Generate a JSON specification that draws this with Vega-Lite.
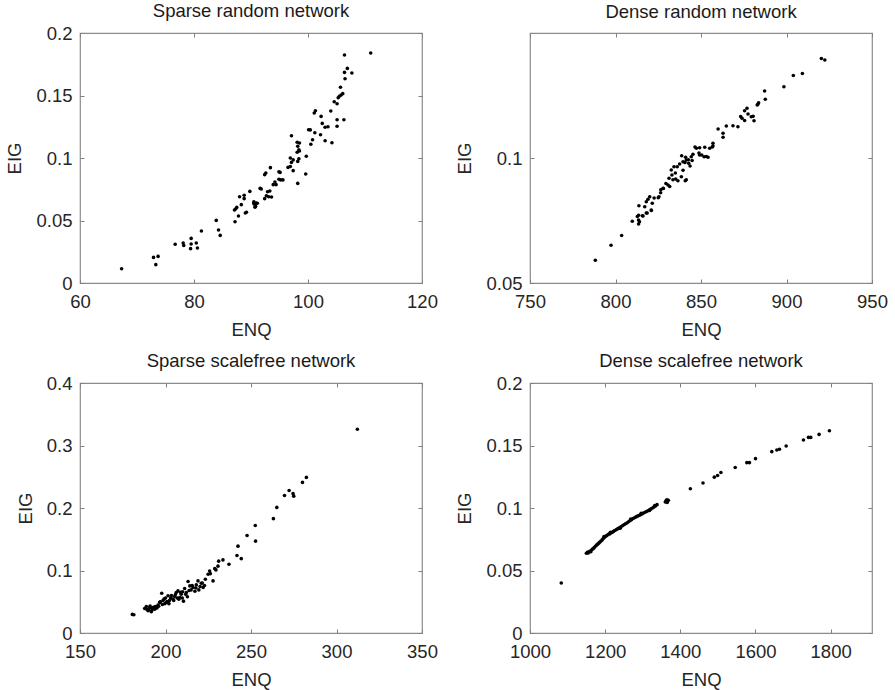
{
  "$schema": "https://vega.github.io/schema/vega-lite/v6.json",
  "padding": {"left": 5, "top": 0, "right": 5, "bottom": 5},
  "background": "white",
  "config": {
    "view": {"stroke": "#8c8c8c", "strokeWidth": 1.2},
    "font": "Liberation Sans",
    "title": {"font": "Liberation Sans", "fontSize": 18.5, "fontWeight": "normal", "color": "#1a1a1a", "offset": 11, "anchor": "middle"},
    "axis": {"labelFont": "Liberation Sans", "labelFontSize": 18.5, "labelColor": "#262626", "titleFont": "Liberation Sans", "titleFontSize": 18.5, "titleFontWeight": "normal", "titleColor": "#262626", "domain": false, "grid": false, "tickColor": "#808080", "tickSize": -4, "labelFlush": false, "labelOverlap": false, "labelBound": false, "format": "~r"},
    "axisX": {"labelPadding": 13, "titlePadding": 10},
    "axisY": {"labelPadding": 12, "titlePadding": 11}
  },
  "datasets": {
    "sparse_random": [
      {"ENQ":67.3,"EIG":0.0114},{"ENQ":72.9,"EIG":0.0205},{"ENQ":73.7,"EIG":0.0213},{"ENQ":73.3,"EIG":0.0147},{"ENQ":76.7,"EIG":0.031},{"ENQ":78.1,"EIG":0.032},{"ENQ":78.2,"EIG":0.030},{"ENQ":79.5,"EIG":0.0357},{"ENQ":79.5,"EIG":0.0312},{"ENQ":79.4,"EIG":0.0275},{"ENQ":80.4,"EIG":0.032},{"ENQ":80.6,"EIG":0.028},{"ENQ":81.3,"EIG":0.0416},{"ENQ":83.9,"EIG":0.0501},{"ENQ":84.3,"EIG":0.0424},{"ENQ":84.6,"EIG":0.0381},{"ENQ":87.2,"EIG":0.049},{"ENQ":87.1,"EIG":0.0584},{"ENQ":87.5,"EIG":0.0605},{"ENQ":87.3,"EIG":0.0592},{"ENQ":87.8,"EIG":0.0536},{"ENQ":88.0,"EIG":0.069},{"ENQ":88.3,"EIG":0.0627},{"ENQ":88.8,"EIG":0.0702},{"ENQ":88.8,"EIG":0.0675},{"ENQ":89.0,"EIG":0.056},{"ENQ":89.2,"EIG":0.0566},{"ENQ":89.8,"EIG":0.0733},{"ENQ":90.5,"EIG":0.0638},{"ENQ":90.7,"EIG":0.0606},{"ENQ":90.5,"EIG":0.065},{"ENQ":90.6,"EIG":0.063},{"ENQ":90.9,"EIG":0.064},{"ENQ":91.1,"EIG":0.0638},{"ENQ":90.8,"EIG":0.0615},{"ENQ":91.6,"EIG":0.0757},{"ENQ":91.8,"EIG":0.0752},{"ENQ":92.4,"EIG":0.0675},{"ENQ":92.7,"EIG":0.0698},{"ENQ":92.9,"EIG":0.073},{"ENQ":93.3,"EIG":0.0736},{"ENQ":93.1,"EIG":0.069},{"ENQ":93.6,"EIG":0.0688},{"ENQ":92.4,"EIG":0.0867},{"ENQ":92.6,"EIG":0.088},{"ENQ":93.4,"EIG":0.0923},{"ENQ":93.9,"EIG":0.0787},{"ENQ":94.2,"EIG":0.0808},{"ENQ":94.4,"EIG":0.0787},{"ENQ":94.9,"EIG":0.083},{"ENQ":95.2,"EIG":0.0825},{"ENQ":94.9,"EIG":0.089},{"ENQ":95.1,"EIG":0.0885},{"ENQ":95.6,"EIG":0.0825},{"ENQ":96.5,"EIG":0.0925},{"ENQ":96.9,"EIG":0.0932},{"ENQ":96.9,"EIG":0.1},{"ENQ":97.1,"EIG":0.0965},{"ENQ":97.1,"EIG":0.1178},{"ENQ":97.4,"EIG":0.0899},{"ENQ":97.4,"EIG":0.0985},{"ENQ":98.1,"EIG":0.1126},{"ENQ":98.2,"EIG":0.0973},{"ENQ":98.2,"EIG":0.1094},{"ENQ":98.2,"EIG":0.0797},{"ENQ":98.4,"EIG":0.0994},{"ENQ":98.4,"EIG":0.1065},{"ENQ":98.5,"EIG":0.112},{"ENQ":98.5,"EIG":0.1056},{"ENQ":98.1,"EIG":0.1046},{"ENQ":99.6,"EIG":0.0872},{"ENQ":99.7,"EIG":0.1014},{"ENQ":100.1,"EIG":0.1226},{"ENQ":100.4,"EIG":0.1225},{"ENQ":100.5,"EIG":0.111},{"ENQ":100.8,"EIG":0.1146},{"ENQ":101.1,"EIG":0.136},{"ENQ":101.3,"EIG":0.1378},{"ENQ":101.2,"EIG":0.1202},{"ENQ":102.2,"EIG":0.1186},{"ENQ":102.3,"EIG":0.1333},{"ENQ":102.5,"EIG":0.1277},{"ENQ":103.0,"EIG":0.1246},{"ENQ":103.5,"EIG":0.125},{"ENQ":103.0,"EIG":0.1138},{"ENQ":104.0,"EIG":0.1376},{"ENQ":104.2,"EIG":0.1122},{"ENQ":104.6,"EIG":0.145},{"ENQ":105.1,"EIG":0.1434},{"ENQ":105.3,"EIG":0.1482},{"ENQ":105.5,"EIG":0.1494},{"ENQ":105.8,"EIG":0.1504},{"ENQ":106.1,"EIG":0.1515},{"ENQ":105.7,"EIG":0.1566},{"ENQ":105.1,"EIG":0.1306},{"ENQ":106.3,"EIG":0.1306},{"ENQ":105.1,"EIG":0.1254},{"ENQ":106.4,"EIG":0.1685},{"ENQ":106.5,"EIG":0.1634},{"ENQ":106.9,"EIG":0.1717},{"ENQ":107.7,"EIG":0.168},{"ENQ":106.4,"EIG":0.1824},{"ENQ":111.0,"EIG":0.184}
    ],
    "dense_random": [
      {"ENQ":788.2,"EIG":0.0591},{"ENQ":797.4,"EIG":0.0651},{"ENQ":803.6,"EIG":0.069},{"ENQ":809.8,"EIG":0.0747},{"ENQ":813.5,"EIG":0.0736},{"ENQ":813.5,"EIG":0.0752},{"ENQ":813.5,"EIG":0.0771},{"ENQ":816.1,"EIG":0.0768},{"ENQ":813.7,"EIG":0.0809},{"ENQ":817.1,"EIG":0.0805},{"ENQ":818.0,"EIG":0.0825},{"ENQ":819.0,"EIG":0.0835},{"ENQ":820.0,"EIG":0.0845},{"ENQ":820.9,"EIG":0.0792},{"ENQ":821.5,"EIG":0.0819},{"ENQ":818.5,"EIG":0.078},{"ENQ":825.4,"EIG":0.0845},{"ENQ":826.4,"EIG":0.0861},{"ENQ":827.8,"EIG":0.0879},{"ENQ":825.0,"EIG":0.0841},{"ENQ":830.7,"EIG":0.0892},{"ENQ":831.3,"EIG":0.0919},{"ENQ":833.0,"EIG":0.0932},{"ENQ":832.6,"EIG":0.0952},{"ENQ":834.2,"EIG":0.0965},{"ENQ":831.7,"EIG":0.0886},{"ENQ":835.2,"EIG":0.0916},{"ENQ":836.5,"EIG":0.0909},{"ENQ":838.5,"EIG":0.0925},{"ENQ":840.8,"EIG":0.0909},{"ENQ":836.1,"EIG":0.0965},{"ENQ":837.5,"EIG":0.0976},{"ENQ":839.5,"EIG":0.0985},{"ENQ":841.4,"EIG":0.0992},{"ENQ":842.8,"EIG":0.0979},{"ENQ":843.6,"EIG":0.0968},{"ENQ":838.7,"EIG":0.1009},{"ENQ":841.0,"EIG":0.1003},{"ENQ":844.3,"EIG":0.1005},{"ENQ":845.3,"EIG":0.1015},{"ENQ":847.3,"EIG":0.1039},{"ENQ":849.2,"EIG":0.1041},{"ENQ":852.2,"EIG":0.1043},{"ENQ":855.1,"EIG":0.1039},{"ENQ":857.0,"EIG":0.1048},{"ENQ":857.0,"EIG":0.1059},{"ENQ":849.2,"EIG":0.1012},{"ENQ":851.8,"EIG":0.1005},{"ENQ":854.1,"EIG":0.1003},{"ENQ":846.5,"EIG":0.1044},{"ENQ":860.0,"EIG":0.1116},{"ENQ":862.9,"EIG":0.1099},{"ENQ":862.9,"EIG":0.1083},{"ENQ":864.8,"EIG":0.1128},{"ENQ":868.7,"EIG":0.1129},{"ENQ":871.6,"EIG":0.1125},{"ENQ":874.0,"EIG":0.1159},{"ENQ":875.5,"EIG":0.1189},{"ENQ":876.9,"EIG":0.1199},{"ENQ":877.5,"EIG":0.1176},{"ENQ":879.4,"EIG":0.1165},{"ENQ":881.0,"EIG":0.1149},{"ENQ":882.9,"EIG":0.1212},{"ENQ":883.7,"EIG":0.1221},{"ENQ":887.2,"EIG":0.1268},{"ENQ":887.6,"EIG":0.1235},{"ENQ":898.5,"EIG":0.1285},{"ENQ":904.0,"EIG":0.133},{"ENQ":909.3,"EIG":0.1338},{"ENQ":920.4,"EIG":0.1398},{"ENQ":922.4,"EIG":0.1392},{"ENQ":841.4,"EIG":0.0913},{"ENQ":839.5,"EIG":0.0951},{"ENQ":833.6,"EIG":0.0913},{"ENQ":828.0,"EIG":0.0878},{"ENQ":826.5,"EIG":0.0873},{"ENQ":815.7,"EIG":0.0769},{"ENQ":812.8,"EIG":0.0766},{"ENQ":821.0,"EIG":0.079},{"ENQ":818.0,"EIG":0.078},{"ENQ":842.6,"EIG":0.0993},{"ENQ":840.6,"EIG":0.0982},{"ENQ":850.4,"EIG":0.1012},{"ENQ":853.1,"EIG":0.1006},{"ENQ":848.8,"EIG":0.102},{"ENQ":856.6,"EIG":0.1044},{"ENQ":873.2,"EIG":0.1166},{"ENQ":875.5,"EIG":0.115},{"ENQ":880.5,"EIG":0.1167},{"ENQ":883.2,"EIG":0.1215},{"ENQ":814.0,"EIG":0.0745},{"ENQ":822.6,"EIG":0.084},{"ENQ":829.5,"EIG":0.0898},{"ENQ":835.0,"EIG":0.094},{"ENQ":844.8,"EIG":0.099}
    ],
    "sparse_scalefree": [
      {"ENQ":180.6,"EIG":0.0298},{"ENQ":181.5,"EIG":0.0292},{"ENQ":187.8,"EIG":0.0393},{"ENQ":188.8,"EIG":0.0425},{"ENQ":190.8,"EIG":0.041},{"ENQ":189.8,"EIG":0.0356},{"ENQ":191.7,"EIG":0.034},{"ENQ":190.3,"EIG":0.037},{"ENQ":192.5,"EIG":0.0395},{"ENQ":193.7,"EIG":0.0382},{"ENQ":194.0,"EIG":0.0425},{"ENQ":195.6,"EIG":0.0446},{"ENQ":196.6,"EIG":0.049},{"ENQ":197.8,"EIG":0.0637},{"ENQ":198.2,"EIG":0.0455},{"ENQ":199.1,"EIG":0.0542},{"ENQ":199.6,"EIG":0.047},{"ENQ":200.5,"EIG":0.049},{"ENQ":201.5,"EIG":0.0595},{"ENQ":202.3,"EIG":0.052},{"ENQ":203.0,"EIG":0.056},{"ENQ":204.4,"EIG":0.0542},{"ENQ":205.4,"EIG":0.0584},{"ENQ":206.3,"EIG":0.0648},{"ENQ":207.3,"EIG":0.0674},{"ENQ":207.8,"EIG":0.054},{"ENQ":208.3,"EIG":0.0568},{"ENQ":209.2,"EIG":0.0621},{"ENQ":210.0,"EIG":0.066},{"ENQ":210.5,"EIG":0.051},{"ENQ":211.2,"EIG":0.0712},{"ENQ":212.2,"EIG":0.0648},{"ENQ":212.8,"EIG":0.058},{"ENQ":213.2,"EIG":0.0823},{"ENQ":214.2,"EIG":0.0754},{"ENQ":215.0,"EIG":0.069},{"ENQ":216.1,"EIG":0.0728},{"ENQ":217.2,"EIG":0.0668},{"ENQ":218.0,"EIG":0.077},{"ENQ":219.0,"EIG":0.0834},{"ENQ":220.2,"EIG":0.0745},{"ENQ":220.9,"EIG":0.0797},{"ENQ":222.0,"EIG":0.073},{"ENQ":223.3,"EIG":0.086},{"ENQ":224.9,"EIG":0.094},{"ENQ":225.8,"EIG":0.0993},{"ENQ":227.8,"EIG":0.0834},{"ENQ":228.8,"EIG":0.103},{"ENQ":230.7,"EIG":0.107},{"ENQ":231.1,"EIG":0.115},{"ENQ":233.6,"EIG":0.117},{"ENQ":237.1,"EIG":0.11},{"ENQ":241.8,"EIG":0.124},{"ENQ":242.4,"EIG":0.139},{"ENQ":244.3,"EIG":0.119},{"ENQ":247.7,"EIG":0.156},{"ENQ":252.5,"EIG":0.172},{"ENQ":252.7,"EIG":0.147},{"ENQ":263.1,"EIG":0.183},{"ENQ":265.1,"EIG":0.201},{"ENQ":269.6,"EIG":0.22},{"ENQ":272.3,"EIG":0.228},{"ENQ":274.6,"EIG":0.223},{"ENQ":275.0,"EIG":0.219},{"ENQ":280.1,"EIG":0.241},{"ENQ":282.4,"EIG":0.249},{"ENQ":312.2,"EIG":0.326},{"ENQ":189.0,"EIG":0.038},{"ENQ":191.0,"EIG":0.043},{"ENQ":192.0,"EIG":0.036},{"ENQ":193.0,"EIG":0.041},{"ENQ":195.0,"EIG":0.04},{"ENQ":196.0,"EIG":0.043},{"ENQ":197.0,"EIG":0.05},{"ENQ":198.5,"EIG":0.052},{"ENQ":200.0,"EIG":0.056},{"ENQ":201.0,"EIG":0.0505},{"ENQ":202.0,"EIG":0.047},{"ENQ":203.5,"EIG":0.06},{"ENQ":204.8,"EIG":0.052},{"ENQ":205.8,"EIG":0.0615},{"ENQ":206.8,"EIG":0.056},{"ENQ":208.8,"EIG":0.065},{"ENQ":209.8,"EIG":0.056},{"ENQ":211.8,"EIG":0.062},{"ENQ":213.8,"EIG":0.068},{"ENQ":215.6,"EIG":0.076},{"ENQ":217.8,"EIG":0.072},{"ENQ":219.5,"EIG":0.069},{"ENQ":221.5,"EIG":0.08},{"ENQ":222.8,"EIG":0.076},{"ENQ":226.2,"EIG":0.095},{"ENQ":229.5,"EIG":0.101}
    ],
    "dense_scalefree": [
      {"ENQ":1083.2,"EIG":0.04},{"ENQ":1150,"EIG":0.0638},{"ENQ":1153,"EIG":0.0646},{"ENQ":1155,"EIG":0.0641},{"ENQ":1157,"EIG":0.065},{"ENQ":1160,"EIG":0.0655},{"ENQ":1162,"EIG":0.0651},{"ENQ":1165,"EIG":0.0668},{"ENQ":1168,"EIG":0.0675},{"ENQ":1171,"EIG":0.0683},{"ENQ":1174,"EIG":0.0694},{"ENQ":1177,"EIG":0.0703},{"ENQ":1180,"EIG":0.0711},{"ENQ":1183,"EIG":0.0719},{"ENQ":1186,"EIG":0.0728},{"ENQ":1189,"EIG":0.0736},{"ENQ":1192,"EIG":0.0745},{"ENQ":1195,"EIG":0.0757},{"ENQ":1198,"EIG":0.0764},{"ENQ":1201,"EIG":0.0774},{"ENQ":1204,"EIG":0.0778},{"ENQ":1207,"EIG":0.0786},{"ENQ":1210,"EIG":0.0792},{"ENQ":1213,"EIG":0.0795},{"ENQ":1216,"EIG":0.0802},{"ENQ":1219,"EIG":0.0806},{"ENQ":1222,"EIG":0.0813},{"ENQ":1226,"EIG":0.082},{"ENQ":1230,"EIG":0.0828},{"ENQ":1234,"EIG":0.0835},{"ENQ":1238,"EIG":0.0841},{"ENQ":1242,"EIG":0.085},{"ENQ":1246,"EIG":0.0858},{"ENQ":1250,"EIG":0.0866},{"ENQ":1254,"EIG":0.0874},{"ENQ":1258,"EIG":0.088},{"ENQ":1262,"EIG":0.089},{"ENQ":1266,"EIG":0.0899},{"ENQ":1270,"EIG":0.0906},{"ENQ":1274,"EIG":0.0916},{"ENQ":1278,"EIG":0.0922},{"ENQ":1282,"EIG":0.0929},{"ENQ":1286,"EIG":0.0935},{"ENQ":1290,"EIG":0.094},{"ENQ":1294,"EIG":0.0947},{"ENQ":1298,"EIG":0.0952},{"ENQ":1302,"EIG":0.096},{"ENQ":1306,"EIG":0.0966},{"ENQ":1310,"EIG":0.0972},{"ENQ":1314,"EIG":0.0978},{"ENQ":1318,"EIG":0.0986},{"ENQ":1322,"EIG":0.0993},{"ENQ":1326,"EIG":0.1},{"ENQ":1330,"EIG":0.1009},{"ENQ":1334,"EIG":0.1017},{"ENQ":1338,"EIG":0.1027},{"ENQ":1197,"EIG":0.0772},{"ENQ":1214,"EIG":0.0806},{"ENQ":1240,"EIG":0.0838},{"ENQ":1268,"EIG":0.0912},{"ENQ":1296,"EIG":0.0958},{"ENQ":1318,"EIG":0.098},{"ENQ":1332,"EIG":0.102},{"ENQ":1360,"EIG":0.1048},{"ENQ":1362,"EIG":0.1058},{"ENQ":1364,"EIG":0.1065},{"ENQ":1366,"EIG":0.1052},{"ENQ":1368,"EIG":0.1062},{"ENQ":1365,"EIG":0.1045},{"ENQ":1426.7,"EIG":0.1154},{"ENQ":1460.3,"EIG":0.12},{"ENQ":1490.4,"EIG":0.1247},{"ENQ":1499.2,"EIG":0.126},{"ENQ":1508,"EIG":0.1284},{"ENQ":1546,"EIG":0.1324},{"ENQ":1577,"EIG":0.1363},{"ENQ":1584,"EIG":0.1363},{"ENQ":1600,"EIG":0.1395},{"ENQ":1643.4,"EIG":0.1451},{"ENQ":1656.8,"EIG":0.1464},{"ENQ":1663.9,"EIG":0.147},{"ENQ":1681.6,"EIG":0.1496},{"ENQ":1727.6,"EIG":0.1544},{"ENQ":1740.9,"EIG":0.1565},{"ENQ":1747,"EIG":0.1565},{"ENQ":1769.2,"EIG":0.1589},{"ENQ":1796.7,"EIG":0.1618}
    ]
  },
  "columns": 2,
  "spacing": {"row": 100, "column": 108},
  "bounds": "flush",
  "concat": [
    {
      "title": {"text": "Sparse random network", "offset": 4},
      "width": 342, "height": 250,
      "data": {"name": "sparse_random"},
      "layer": [
        {"mark": {"type": "circle", "size": 13, "color": "#000000", "opacity": 1},
         "encoding": {
           "x": {"field": "ENQ", "type": "quantitative", "scale": {"domain": [60, 120], "nice": false, "zero": false}, "axis": {"values": [60, 80, 100, 120], "title": "ENQ"}},
           "y": {"field": "EIG", "type": "quantitative", "scale": {"domain": [0, 0.2], "nice": false, "zero": false}, "axis": {"values": [0, 0.05, 0.1, 0.15, 0.2], "title": "EIG"}}
         }},
        {"mark": {"type": "point", "opacity": 0},
         "encoding": {
           "x": {"field": "ENQ", "type": "quantitative", "axis": {"orient": "top", "values": [60, 80, 100, 120], "labels": false, "title": null}},
           "y": {"field": "EIG", "type": "quantitative", "axis": {"orient": "right", "values": [0, 0.05, 0.1, 0.15, 0.2], "labels": false, "title": null}}
         }}
      ],
      "resolve": {"axis": {"x": "independent", "y": "independent"}}
    },
    {
      "title": {"text": "Dense random network", "offset": 11},
      "width": 342, "height": 250,
      "data": {"name": "dense_random"},
      "layer": [
        {"mark": {"type": "circle", "size": 13, "color": "#000000", "opacity": 1},
         "encoding": {
           "x": {"field": "ENQ", "type": "quantitative", "scale": {"domain": [750, 950], "nice": false, "zero": false}, "axis": {"values": [750, 800, 850, 900, 950], "title": "ENQ"}},
           "y": {"field": "EIG", "type": "quantitative", "scale": {"domain": [0.05, 0.15], "nice": false, "zero": false}, "axis": {"values": [0.05, 0.1], "title": "EIG"}}
         }},
        {"mark": {"type": "point", "opacity": 0},
         "encoding": {
           "x": {"field": "ENQ", "type": "quantitative", "axis": {"orient": "top", "values": [750, 800, 850, 900, 950], "labels": false, "title": null}},
           "y": {"field": "EIG", "type": "quantitative", "axis": {"orient": "right", "values": [0.05, 0.1], "labels": false, "title": null}}
         }}
      ],
      "resolve": {"axis": {"x": "independent", "y": "independent"}}
    },
    {
      "title": {"text": "Sparse scalefree network", "offset": 4},
      "width": 342, "height": 250,
      "data": {"name": "sparse_scalefree"},
      "layer": [
        {"mark": {"type": "circle", "size": 13, "color": "#000000", "opacity": 1},
         "encoding": {
           "x": {"field": "ENQ", "type": "quantitative", "scale": {"domain": [150, 350], "nice": false, "zero": false}, "axis": {"values": [150, 200, 250, 300, 350], "title": "ENQ"}},
           "y": {"field": "EIG", "type": "quantitative", "scale": {"domain": [0, 0.4], "nice": false, "zero": false}, "axis": {"values": [0, 0.1, 0.2, 0.3, 0.4], "title": "EIG"}}
         }},
        {"mark": {"type": "point", "opacity": 0},
         "encoding": {
           "x": {"field": "ENQ", "type": "quantitative", "axis": {"orient": "top", "values": [150, 200, 250, 300, 350], "labels": false, "title": null}},
           "y": {"field": "EIG", "type": "quantitative", "axis": {"orient": "right", "values": [0, 0.1, 0.2, 0.3, 0.4], "labels": false, "title": null}}
         }}
      ],
      "resolve": {"axis": {"x": "independent", "y": "independent"}}
    },
    {
      "title": {"text": "Dense scalefree network", "offset": 4},
      "width": 342, "height": 250,
      "data": {"name": "dense_scalefree"},
      "layer": [
        {"mark": {"type": "circle", "size": 13, "color": "#000000", "opacity": 1},
         "encoding": {
           "x": {"field": "ENQ", "type": "quantitative", "scale": {"domain": [1000, 1910], "nice": false, "zero": false}, "axis": {"values": [1000, 1200, 1400, 1600, 1800], "title": "ENQ"}},
           "y": {"field": "EIG", "type": "quantitative", "scale": {"domain": [0, 0.2], "nice": false, "zero": false}, "axis": {"values": [0, 0.05, 0.1, 0.15, 0.2], "title": "EIG"}}
         }},
        {"mark": {"type": "point", "opacity": 0},
         "encoding": {
           "x": {"field": "ENQ", "type": "quantitative", "axis": {"orient": "top", "values": [1000, 1200, 1400, 1600, 1800], "labels": false, "title": null}},
           "y": {"field": "EIG", "type": "quantitative", "axis": {"orient": "right", "values": [0, 0.05, 0.1, 0.15, 0.2], "labels": false, "title": null}}
         }}
      ],
      "resolve": {"axis": {"x": "independent", "y": "independent"}}
    }
  ]
}
